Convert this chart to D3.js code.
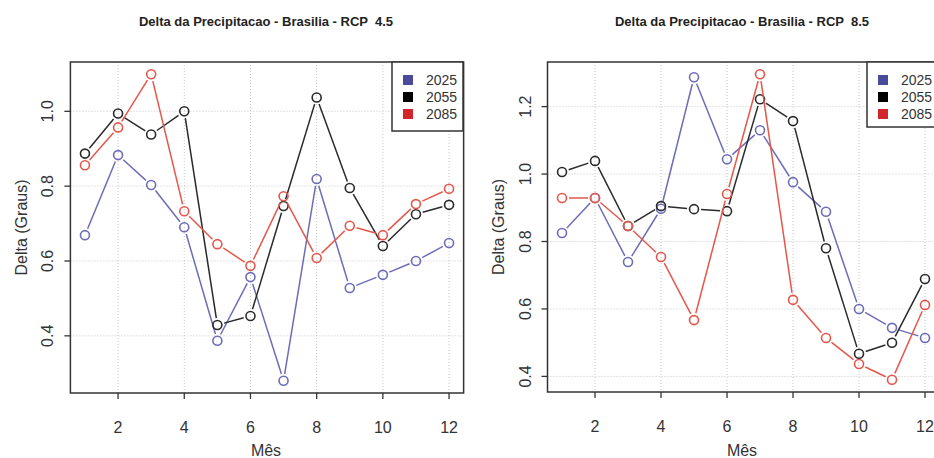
<!DOCTYPE html>
<html><head><meta charset="utf-8">
<script src="https://cdn.jsdelivr.net/npm/d3@7/dist/d3.min.js"></script>
<style>body{margin:0;background:#fff}svg{display:block}text{font-family:"Liberation Sans",Arial,sans-serif}</style>
</head><body><svg id="c" width="934" height="458"></svg>
<script>
const months = [1,2,3,4,5,6,7,8,9,10,11,12];
const seriesNames = ["2025","2055","2085"];
const xTicks = [2,4,6,8,10,12];
// RCP 4.5
const rcp45_2025 = [0.669,0.883,0.803,0.690,0.387,0.557,0.280,0.819,0.528,0.563,0.600,0.648];
const rcp45_2055 = [0.887,0.994,0.938,1.000,0.429,0.453,0.747,1.037,0.795,0.640,0.725,0.750];
const rcp45_2085 = [0.856,0.957,1.099,0.733,0.645,0.587,0.773,0.608,0.694,0.669,0.752,0.793];
const yTicks45 = [0.4,0.6,0.8,1.0];
// RCP 8.5
const rcp85_2025 = [0.825,0.929,0.739,0.897,1.287,1.044,1.130,0.976,0.888,0.600,0.544,0.514];
const rcp85_2055 = [1.006,1.039,0.846,0.905,0.896,0.890,1.222,1.157,0.780,0.467,0.500,0.689];
const rcp85_2085 = [0.929,0.929,0.846,0.754,0.567,0.941,1.296,0.627,0.514,0.437,0.390,0.612];
const yTicks85 = [0.4,0.6,0.8,1.0,1.2];

const lineColors = ["#6c6cb8","#2a2a2a","#e5574b"];
const legendColors = ["#4b4b9c","#000000","#d2262c"];

const svg = d3.select("#c");

function panel(cfg){
  const g = svg.append("g");
  const x = d3.scaleLinear().domain([0.56,12.44]).range([cfg.left, cfg.left + 11.88*cfg.mw]);
  const all = cfg.series.flat();
  const mn = d3.min(all), mx = d3.max(all), pad = (mx-mn)*0.04;
  const y = d3.scaleLinear().domain([mn-pad, mx+pad]).range([cfg.bottom, cfg.top]);
  const [x0,x1] = x.range(), [y0,y1] = [cfg.top, cfg.bottom];
  // grid
  g.selectAll(".gx").data(xTicks).join("line")
    .attr("x1",d=>x(d)).attr("x2",d=>x(d)).attr("y1",y0).attr("y2",y1)
    .attr("stroke","#c8c8c8").attr("stroke-dasharray","1,2");
  g.selectAll(".gy").data(cfg.yTicks).join("line")
    .attr("y1",d=>y(d)).attr("y2",d=>y(d)).attr("x1",x0).attr("x2",x1)
    .attr("stroke","#c8c8c8").attr("stroke-dasharray","1,2");
  // series
  cfg.series.forEach((vals,si)=>{
    const pts = vals.map((v,i)=>[x(months[i]), y(v)]);
    const gap = 7;
    for(let i=0;i<pts.length-1;i++){
      const [ax,ay]=pts[i],[bx,by]=pts[i+1];
      const dx=bx-ax, dy=by-ay, L=Math.hypot(dx,dy);
      if(L<=2*gap+1) continue;
      const ux=dx/L, uy=dy/L;
      g.append("line").attr("x1",ax+ux*gap).attr("y1",ay+uy*gap)
        .attr("x2",bx-ux*gap).attr("y2",by-uy*gap)
        .attr("stroke",lineColors[si]).attr("stroke-width",1.5);
    }
    g.selectAll(null).data(pts).join("circle")
      .attr("cx",d=>d[0]).attr("cy",d=>d[1]).attr("r",4.5)
      .attr("fill","none").attr("stroke",lineColors[si]).attr("stroke-width",1.6);
  });
  // box
  g.append("rect").attr("x",x0).attr("y",y0).attr("width",x1-x0).attr("height",y1-y0)
    .attr("fill","none").attr("stroke","#333").attr("stroke-width",1.5);
  // x axis ticks
  g.selectAll(".tx").data(xTicks).join("line")
    .attr("x1",d=>x(d)).attr("x2",d=>x(d)).attr("y1",y1).attr("y2",y1+6)
    .attr("stroke","#333").attr("stroke-width",1.3);
  g.selectAll(".lx").data(xTicks).join("text")
    .attr("x",d=>x(d)).attr("y",y1+40).attr("text-anchor","middle")
    .attr("font-size",16).attr("fill","#333").text(d=>d);
  // y axis ticks
  g.selectAll(".ty").data(cfg.yTicks).join("line")
    .attr("y1",d=>y(d)).attr("y2",d=>y(d)).attr("x1",x0-6).attr("x2",x0)
    .attr("stroke","#333").attr("stroke-width",1.3);
  g.selectAll(".ly").data(cfg.yTicks).join("text")
    .attr("transform",d=>`translate(${x0-17},${y(d)}) rotate(-90)`)
    .attr("text-anchor","middle").attr("font-size",16).attr("fill","#333")
    .text(d=>d.toFixed(1));
  // labels
  g.append("text").attr("x",cfg.titleX).attr("y",26).attr("text-anchor","middle")
    .attr("font-size",13).attr("font-weight","bold").attr("fill","#222")
    .style("white-space","pre").text(cfg.title);
  g.append("text").attr("x",cfg.titleX).attr("y",456).attr("text-anchor","middle")
    .attr("font-size",16).attr("fill","#333").text("Mês");
  g.append("text").attr("transform",`translate(${cfg.ylabX},${(y0+y1)/2}) rotate(-90)`)
    .attr("text-anchor","middle").attr("font-size",16).attr("fill","#333").text("Delta (Graus)");
  // legend
  const lg = g.append("g");
  lg.append("rect").attr("x",cfg.legX).attr("y",y0).attr("width",cfg.legW).attr("height",cfg.legH)
    .attr("fill","#fff").attr("stroke","#333").attr("stroke-width",1.5);
  seriesNames.forEach((n,i)=>{
    const cy = y0 + 18 + i*17;
    lg.append("rect").attr("x",cfg.legX+11).attr("y",cy-5).attr("width",10).attr("height",10)
      .attr("fill",legendColors[i]);
    lg.append("text").attr("x",cfg.legX+34).attr("y",cy+5).attr("font-size",14)
      .attr("fill","#333").text(n);
  });
}

panel({left:70.4, mw:33.1, top:62, bottom:393, yTicks:yTicks45,
  series:[rcp45_2025,rcp45_2055,rcp45_2085], title:"Delta da Precipitacao - Brasilia - RCP  4.5",
  titleX:266, ylabX:27, legX:392, legW:71, legH:69});
panel({left:547.5, mw:33.0, top:62, bottom:392, yTicks:yTicks85,
  series:[rcp85_2025,rcp85_2055,rcp85_2085], title:"Delta da Precipitacao - Brasilia - RCP  8.5",
  titleX:742, ylabX:504, legX:867, legW:75, legH:65});
</script></body></html>
